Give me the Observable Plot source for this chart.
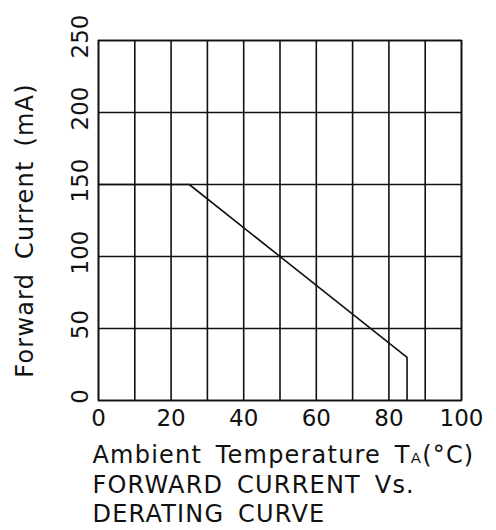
<!DOCTYPE html>
<html><head><meta charset="utf-8">
<script src="https://cdn.jsdelivr.net/npm/d3@7"></script>
<script src="https://cdn.jsdelivr.net/npm/@observablehq/plot@0.6"></script>
<style>
html,body{margin:0;padding:0;background:#fff}
#chart svg{display:block}
#chart svg g[aria-label="text"]{letter-spacing:1.2px;word-spacing:5px}
</style>
</head><body><div id="chart"></div>
<script>
const temps = [0, 25, 85, 85];
const currents = [150, 150, 30, 0];
const xTicks = [0, 20, 40, 60, 80, 100];
const xGridTicks = [0, 10, 20, 30, 40, 50, 60, 70, 80, 90, 100];
const yTicks = [0, 50, 100, 150, 200, 250];
const yLabel = "Forward Current (mA)";
const xLabel = "Ambient Temperature TA(°C)";
const captionLines = ["FORWARD CURRENT Vs.", "DERATING CURVE"];

const rows = temps.map((t, i) => ({t, c: currents[i]}));
const ink = "#111";

const plot = Plot.plot({
  width: 496, height: 530,
  marginLeft: 98, marginRight: 35, marginTop: 40, marginBottom: 130,
  style: {fontFamily: "DejaVu Sans", fontSize: "23px", color: ink, background: "#fff"},
  x: {domain: [0, 100]},
  y: {domain: [0, 250]},
  marks: [
    Plot.gridX(xGridTicks, {stroke: ink, strokeOpacity: 1, strokeWidth: 1.6}),
    Plot.gridY(yTicks, {stroke: ink, strokeOpacity: 1, strokeWidth: 1.6}),
    Plot.frame({stroke: ink, strokeWidth: 1.6}),
    Plot.axisX(xTicks, {tickSize: 0, tickPadding: 9, label: null}),
    Plot.axisY(yTicks, {tickSize: 0, tickRotate: -90, tickPadding: 11, textAnchor: "middle", lineAnchor: "bottom", dy: -4, label: null}),
    Plot.line(rows, {x: "t", y: "c", stroke: ink, strokeWidth: 1.6}),
    Plot.text([yLabel], {text: d => d, fontSize: 24, frameAnchor: "left", rotate: -90, textAnchor: "middle", lineAnchor: "bottom", dx: -66, dy: 10}),
    Plot.text([[xLabel, ...captionLines].join("\n")], {text: d => d, fontSize: 24, frameAnchor: "bottom-left", textAnchor: "start", lineAnchor: "top", lineHeight: 1.23, dx: -6, dy: 42})
  ]
});

d3.select(plot).selectAll("tspan").each(function() {
  if (this.textContent === xLabel) {
    const s = d3.select(this);
    s.text("Ambient Temperature T");
    s.append("tspan").attr("font-size", "0.62em").text("A");
    s.append("tspan").text("(°C)");
  }
});
document.getElementById("chart").append(plot);
</script>
</body></html>
